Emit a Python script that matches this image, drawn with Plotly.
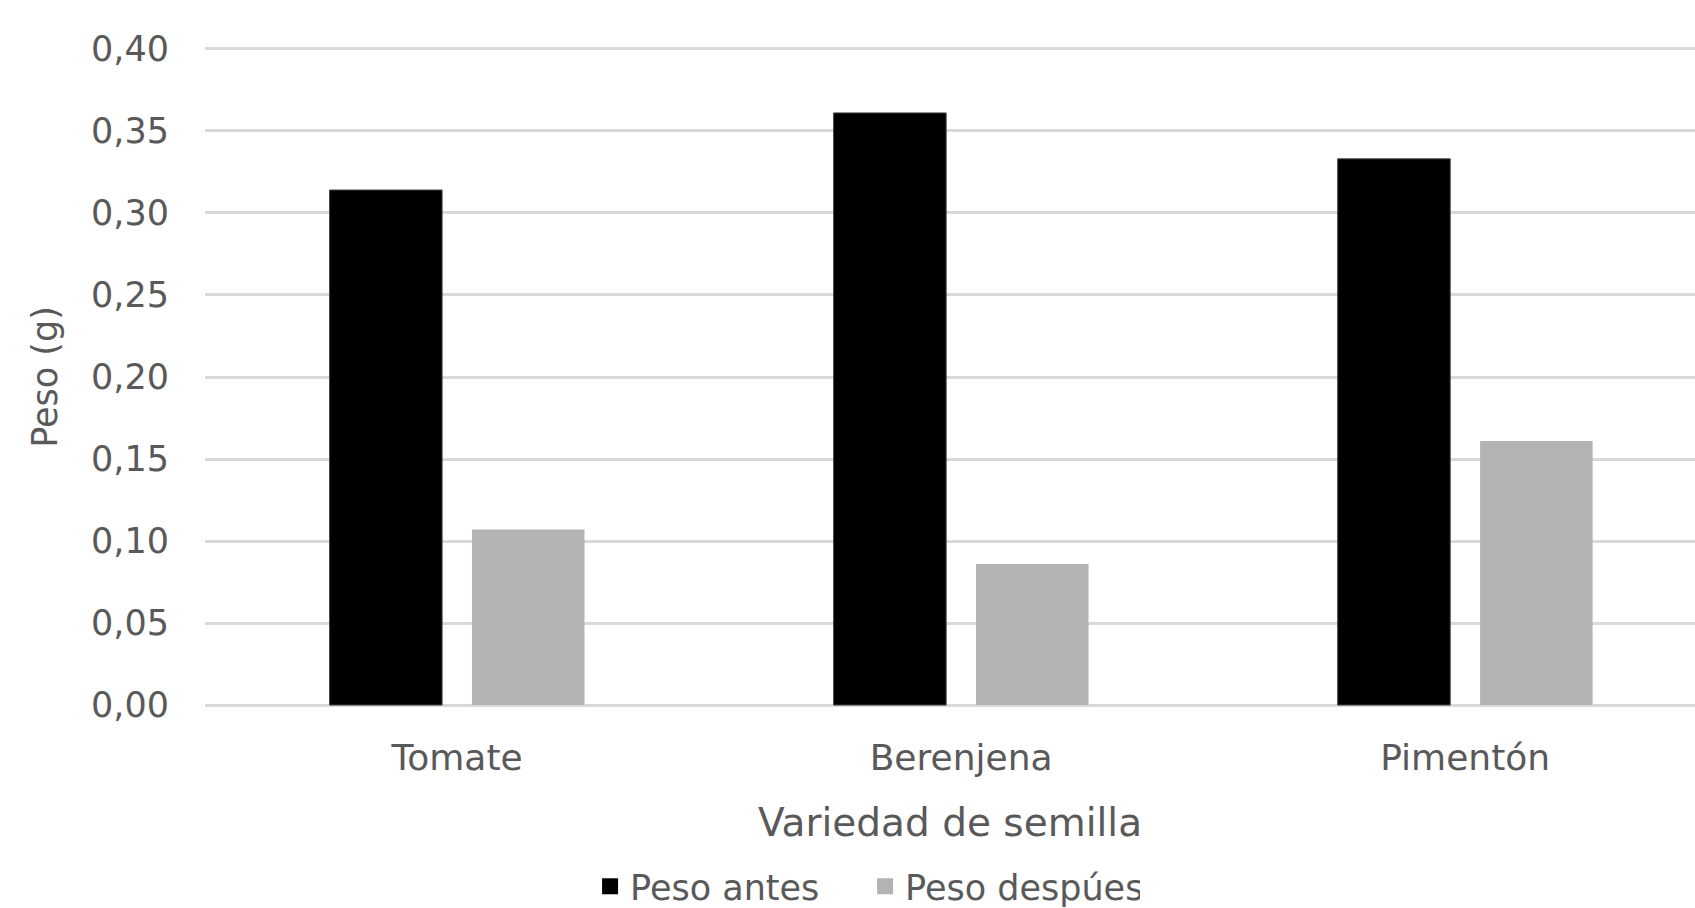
import plotly.graph_objects as go

categories = ["Tomate", "Berenjena", "Pimentón"]
peso_antes = [0.314, 0.361, 0.333]
peso_despues = [0.107, 0.086, 0.161]
series_names = ["Peso antes", "Peso despúes"]
tick_vals = [0.00, 0.05, 0.10, 0.15, 0.20, 0.25, 0.30, 0.35, 0.40]
tick_text = ["0,00", "0,05", "0,10", "0,15", "0,20", "0,25", "0,30", "0,35", "0,40"]

BLACK = "#000000"
GRAY = "#b3b3b3"
TXT = "#595959"
FONT = "DejaVu Sans"

fig = go.Figure()
fig.add_trace(go.Bar(x=categories, y=peso_antes, name=series_names[0],
                     marker=dict(color=BLACK, line=dict(color="#404040", width=1)),
                     showlegend=False))
fig.add_trace(go.Bar(x=categories, y=peso_despues, name=series_names[1],
                     marker=dict(color=GRAY, line=dict(width=0)),
                     showlegend=False))
# legend entries
for nm, col in zip(series_names, [BLACK, GRAY]):
    fig.add_trace(go.Scatter(x=[None], y=[None], mode="markers", name=nm,
                             marker=dict(symbol="square", size=18, color=col)))

fig.update_layout(
    width=1695, height=908,
    margin=dict(l=205, r=0, t=47, b=201, autoexpand=False),
    paper_bgcolor="white", plot_bgcolor="white",
    barmode="group", bargap=0.435, bargroupgap=0.21,
    font=dict(family=FONT, color=TXT),
    showlegend=True,
    legend=dict(orientation="h", x=0.443, xanchor="center", y=-0.272, yanchor="middle",
                font=dict(size=35, color=TXT), itemwidth=30, traceorder="normal",
                entrywidth=230, bgcolor="rgba(0,0,0,0)"),
    xaxis=dict(range=[-0.5, 2.456], showgrid=False, zeroline=False, showline=False,
               automargin=False,
               ticks="", tickfont=dict(size=36, color=TXT), ticklabelstandoff=26,
               title=dict(text="Variedad de semilla", font=dict(size=39, color=TXT), standoff=31)),
    yaxis=dict(range=[-0.0012, 0.4012], tickvals=tick_vals, ticktext=tick_text,
               showgrid=True, gridcolor="#d9d9d9", gridwidth=3, automargin=False,
               zeroline=False, showline=False, ticks="",
               tickfont=dict(size=35, color=TXT), ticklabelstandoff=35,
               title=dict(text="Peso (g)", font=dict(size=35, color=TXT), standoff=22)),
)

fig.write_html("out.html")
